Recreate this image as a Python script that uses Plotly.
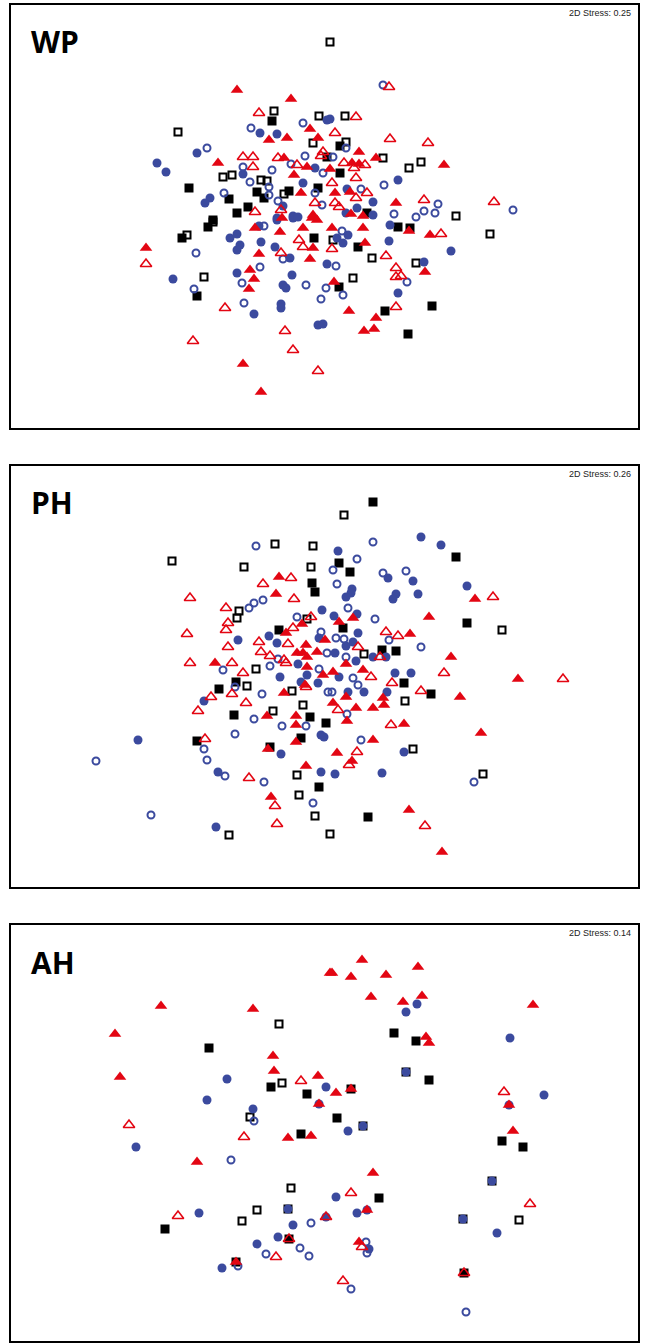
import plotly.graph_objects as go

# ---------------- data (image-pixel units) ----------------
panel_names = ["WP", "PH", "AH"]
stress_values = ["0.25", "0.26", "0.14"]

# WP
WP_tri_filled = [(237,90),(291,99),(269,140),(287,138),(310,129),(318,138),(284,158),(218,163),(307,167),(294,175),(301,193),(313,215),(359,152),(376,158),(352,163),(359,164),(330,169),(444,165),(335,193),(350,192),(396,203),(351,214),(363,216),(146,248),(255,228),(282,218),(312,218),(317,220),(280,232),(303,228),(313,248),(259,254),(310,259),(250,270),(254,279),(249,289),(243,364),(261,392),(409,231),(430,235),(363,228),(332,228),(365,243),(425,272),(334,282),(349,311),(376,318),(364,331),(374,329)]
WP_tri_open = [(259,113),(243,157),(253,157),(278,158),(323,152),(321,156),(253,167),(297,165),(315,203),(255,212),(281,210),(389,87),(356,117),(335,133),(390,139),(428,143),(344,163),(365,165),(354,168),(356,178),(332,183),(367,193),(356,198),(424,200),(494,202),(335,203),(339,207),(146,264),(299,240),(303,247),(281,253),(225,308),(285,331),(193,341),(293,350),(318,371),(441,234),(332,249),(386,256),(396,268),(396,277),(401,276),(396,307)]
WP_circ_filled = [(327,120),(260,133),(277,134),(197,153),(157,163),(166,172),(243,174),(315,168),(303,183),(210,198),(205,203),(283,206),(293,216),(277,218),(330,119),(398,180),(347,189),(373,202),(357,208),(346,213),(373,215),(173,279),(230,238),(237,234),(240,245),(237,250),(261,242),(259,226),(277,220),(293,218),(298,217),(275,247),(290,258),(327,264),(237,273),(292,275),(283,285),(286,288),(281,304),(281,308),(254,314),(318,325),(323,324),(390,225),(389,241),(451,251),(337,238),(348,235),(343,243),(424,262),(398,293)]
WP_circ_open = [(303,123),(251,128),(207,148),(305,156),(243,167),(272,170),(291,164),(323,173),(250,182),(269,187),(224,193),(315,193),(269,195),(278,201),(322,205),(383,85),(346,148),(333,157),(384,185),(361,189),(438,204),(513,210),(424,211),(435,213),(394,214),(416,217),(196,253),(194,289),(264,226),(283,259),(260,267),(242,283),(306,285),(326,288),(321,299),(244,303),(342,231),(336,266),(407,282),(343,295)]
WP_sq_filled = [(272,121),(327,157),(318,188),(189,188),(257,192),(289,191),(229,199),(264,198),(248,207),(237,213),(213,220),(340,146),(340,173),(367,213),(208,227),(182,238),(197,296),(314,238),(398,227),(410,228),(358,247),(339,287),(432,306),(385,311),(408,334)]
WP_sq_open = [(330,42),(274,111),(319,116),(178,132),(313,143),(223,177),(232,175),(261,180),(267,181),(284,194),(345,116),(346,142),(383,158),(409,168),(421,162),(456,216),(213,222),(187,235),(204,277),(490,234),(333,240),(372,258),(416,263),(353,278)]

# PH
PH_tri_filled = [(279,577),(276,594),(215,663),(286,633),(297,653),(303,653),(307,657),(306,645),(317,652),(302,624),(325,640),(307,667),(323,675),(475,599),(353,618),(339,622),(429,617),(410,634),(346,664),(451,657),(333,672),(363,670),(518,679),(284,693),(305,685),(296,716),(296,725),(267,716),(296,742),(268,749),(306,766),(271,797),(460,697),(383,698),(384,705),(373,708),(356,708),(346,697),(333,703),(347,721),(404,724),(481,733),(373,740),(337,753),(352,761),(409,810),(442,852)]
PH_tri_open = [(291,578),(263,584),(294,599),(190,598),(226,608),(228,623),(226,630),(187,634),(228,647),(190,663),(232,663),(243,673),(293,628),(259,642),(261,652),(270,656),(288,644),(284,660),(286,663),(311,617),(493,597),(386,632),(398,636),(358,647),(380,657),(444,673),(563,679),(371,677),(211,697),(232,694),(306,687),(198,711),(246,703),(205,739),(249,778),(275,806),(277,824),(392,683),(421,691),(338,710),(391,725),(357,752),(349,765),(425,826)]
PH_circ_filled = [(238,640),(269,636),(277,643),(280,677),(322,610),(319,638),(298,664),(307,675),(421,537),(441,545),(338,551),(388,578),(413,581),(352,589),(351,593),(346,597),(396,594),(393,599),(418,594),(467,586),(357,614),(334,616),(358,633),(346,646),(353,642),(335,653),(373,657),(386,657),(356,661),(395,673),(411,673),(339,677),(204,701),(301,682),(318,683),(138,740),(321,735),(324,737),(281,754),(218,772),(321,772),(216,827),(348,692),(364,692),(387,692),(404,752),(335,774),(382,773)]
PH_circ_open = [(256,546),(254,603),(263,600),(249,608),(223,670),(278,659),(270,666),(297,617),(321,632),(327,653),(319,669),(373,542),(357,559),(333,570),(383,573),(406,571),(337,584),(348,608),(375,619),(389,640),(336,638),(344,639),(421,647),(346,657),(353,678),(235,687),(262,694),(328,692),(254,719),(282,726),(306,726),(96,761),(235,734),(204,749),(207,760),(225,776),(264,782),(313,803),(151,815),(332,692),(358,685),(347,714),(361,740),(474,782)]
PH_sq_filled = [(312,583),(315,592),(279,630),(373,502),(456,557),(339,563),(350,572),(467,623),(343,628),(382,650),(396,651),(219,689),(236,682),(234,715),(310,717),(326,723),(197,741),(301,738),(270,747),(319,787),(404,683),(431,694),(368,817)]
PH_sq_open = [(172,561),(275,544),(313,546),(244,567),(311,567),(239,611),(237,618),(256,669),(307,619),(344,515),(502,630),(364,654),(247,686),(292,691),(273,711),(303,705),(297,775),(299,795),(315,816),(229,835),(330,834),(405,701),(413,749),(483,774)]

# AH
AH_tri_filled = [(330,973),(161,1006),(253,1009),(115,1034),(273,1056),(274,1071),(120,1077),(318,1076),(319,1104),(288,1138),(311,1136),(362,960),(332,973),(351,977),(386,975),(418,967),(371,997),(403,1002),(422,996),(533,1005),(426,1037),(429,1043),(351,1089),(336,1093),(509,1105),(513,1131),(197,1162),(236,1262),(373,1173),(367,1210),(359,1242)]
AH_tri_open = [(301,1081),(129,1125),(244,1137),(504,1092),(178,1216),(326,1217),(289,1239),(276,1257),(351,1193),(530,1204),(362,1247),(343,1281),(464,1273)]
AH_circ_filled = [(227,1079),(326,1087),(207,1100),(253,1109),(319,1104),(417,1004),(406,1012),(510,1038),(406,1072),(544,1095),(509,1105),(348,1131),(363,1126),(136,1147),(199,1213),(293,1225),(278,1237),(257,1244),(222,1268),(336,1197),(357,1213),(367,1210),(497,1233),(369,1249),(288,1209),(492,1181),(463,1219),(326,1217)]
AH_circ_open = [(254,1121),(231,1160),(311,1223),(300,1248),(309,1256),(266,1254),(238,1266),(366,1242),(367,1253),(351,1289),(466,1312)]
AH_sq_filled = [(209,1048),(271,1087),(307,1094),(301,1134),(394,1033),(416,1041),(406,1072),(429,1080),(351,1089),(337,1118),(363,1126),(502,1141),(523,1147),(165,1229),(289,1239),(236,1262),(379,1198),(492,1181),(463,1219),(464,1273)]
AH_sq_open = [(279,1024),(282,1083),(250,1117),(291,1188),(257,1210),(242,1221),(288,1209),(519,1220)]

panel_data = [
    (WP_sq_filled, WP_sq_open, WP_circ_filled, WP_circ_open, WP_tri_filled, WP_tri_open),
    (PH_sq_filled, PH_sq_open, PH_circ_filled, PH_circ_open, PH_tri_filled, PH_tri_open),
    (AH_sq_filled, AH_sq_open, AH_circ_filled, AH_circ_open, AH_tri_filled, AH_tri_open),
]

# ---------------- layout / styles ----------------
W, H = 649, 1343
BOX_X = (11, 638)
BOX_Y = [(5, 428), (466, 887), (925, 1341)]

RED = "#e30613"
BLUE = "#3b4a9e"
BLACK = "#000000"

styles = [
    dict(symbol="square", size=9, color=BLACK, line=dict(width=0)),
    dict(symbol="square-open", size=7, color=BLACK, line=dict(width=2, color=BLACK)),
    dict(symbol="circle", size=9, color=BLUE, line=dict(width=0)),
    dict(symbol="circle-open", size=7, color=BLUE, line=dict(width=2, color=BLUE)),
    dict(symbol="triangle-up", size=11, color=RED, line=dict(width=0)),
    dict(symbol="triangle-up-open", size=10, color=RED, line=dict(width=1.6, color=RED)),
]

fig = go.Figure()
annotations = []
for i in range(3):
    ax = "" if i == 0 else str(i + 1)
    for pts, st in zip(panel_data[i], styles):
        fig.add_trace(go.Scatter(
            x=[p[0] for p in pts], y=[p[1] for p in pts],
            mode="markers", marker=st, showlegend=False, hoverinfo="skip",
            xaxis="x" + ax, yaxis="y" + ax, cliponaxis=True,
        ))
    top, bot = BOX_Y[i]
    axis_common = dict(showgrid=False, zeroline=False, showticklabels=False, ticks="",
                       showline=True, mirror=True, linecolor=BLACK, linewidth=2)
    fig.update_layout(**{
        "xaxis" + ax: dict(domain=[BOX_X[0] / W, BOX_X[1] / W], range=[BOX_X[0], BOX_X[1]],
                           anchor="y" + ax, **axis_common),
        "yaxis" + ax: dict(domain=[1 - bot / H, 1 - top / H], range=[bot, top],
                           anchor="x" + ax, **axis_common),
    })
    annotations.append(dict(xref="x" + ax, yref="y" + ax, x=29, y=top + 37,
                            text=panel_names[i], showarrow=False, xanchor="left", yanchor="middle",
                            font=dict(family="Open Sans", size=30, color=BLACK, weight=700)))
    annotations.append(dict(xref="x" + ax, yref="y" + ax, x=633, y=top + 8,
                            text="2D Stress: " + stress_values[i], showarrow=False,
                            xanchor="right", yanchor="middle",
                            font=dict(family="Liberation Sans", size=9, color="#222222")))

fig.update_layout(width=W, height=H, margin=dict(l=0, r=0, t=0, b=0),
                  paper_bgcolor="white", plot_bgcolor="white", annotations=annotations)
fig.write_html("out.html")
